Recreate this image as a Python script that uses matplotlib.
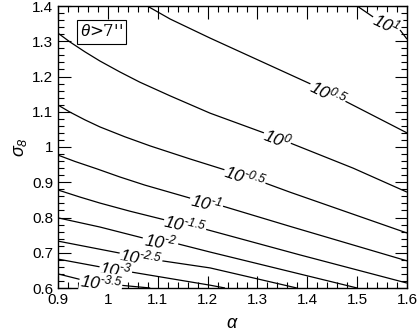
import numpy as np
import matplotlib
matplotlib.use("Agg")
import matplotlib.pyplot as plt
from matplotlib.ticker import MultipleLocator, FixedFormatter, FixedLocator

plt.rcParams['font.family'] = ['Liberation Sans', 'DejaVu Sans']
plt.rcParams['mathtext.fontset'] = 'custom'
plt.rcParams['mathtext.rm'] = 'Liberation Sans:italic'
plt.rcParams['mathtext.it'] = 'Liberation Sans:italic'

# contour levels (log10 N) and their traced lines: (alpha, sigma8) before and after the label gap
levels = ["1", "0.5", "0", "-0.5", "-1", "-1.5", "-2", "-2.5", "-3", "-3.5"]
seg_before = [
    [(1.500, 1.400), (1.532, 1.369)],
    [(1.079, 1.400), (1.125, 1.363), (1.205, 1.309), (1.411, 1.176)],
    [(0.900, 1.323), (0.924, 1.298), (0.954, 1.270), (0.984, 1.244), (1.024, 1.213),
     (1.064, 1.184), (1.125, 1.145), (1.205, 1.096), (1.319, 1.037)],
    [(0.900, 1.119), (0.924, 1.099), (0.954, 1.077), (0.984, 1.057), (1.034, 1.029),
     (1.085, 1.003), (1.165, 0.966), (1.235, 0.935)],
    [(0.900, 0.977), (0.934, 0.959), (0.978, 0.938), (1.024, 0.915), (1.074, 0.892),
     (1.165, 0.855)],
    [(0.900, 0.878), (0.944, 0.858), (0.984, 0.841), (1.044, 0.818), (1.115, 0.793)],
    [(0.900, 0.799), (0.984, 0.773), (1.070, 0.742)],
    [(0.900, 0.733), (1.024, 0.699)],
    [(0.900, 0.682), (0.984, 0.660)],
    [(0.900, 0.640), (0.948, 0.623)],
]
seg_after = [
    [(1.586, 1.332), (1.600, 1.306)],
    [(1.472, 1.133), (1.600, 1.040)],
    [(1.361, 1.014), (1.492, 0.940), (1.600, 0.872)],
    [(1.315, 0.898), (1.365, 0.872), (1.600, 0.756)],
    [(1.231, 0.832), (1.365, 0.775), (1.600, 0.677)],
    [(1.195, 0.767), (1.385, 0.694), (1.600, 0.614)],
    [(1.141, 0.725), (1.205, 0.702), (1.500, 0.600)],
    [(1.109, 0.677), (1.205, 0.657), (1.379, 0.600)],
    [(1.048, 0.645), (1.205, 0.608), (1.235, 0.600)],
    [(1.024, 0.608), (1.085, 0.600)],
]

xticks = [0.9, 1.0, 1.1, 1.2, 1.3, 1.4, 1.5, 1.6]
xticklabels = ["0.9", "1", "1.1", "1.2", "1.3", "1.4", "1.5", "1.6"]
yticks = [0.6, 0.7, 0.8, 0.9, 1.0, 1.1, 1.2, 1.3, 1.4]
yticklabels = ["0.6", "0.7", "0.8", "0.9", "1", "1.1", "1.2", "1.3", "1.4"]

fig = plt.figure(figsize=(4.2, 3.34), dpi=100)
ax = fig.add_axes([58/420, 1-288/334, (407-58)/420, (288-6)/334])
ax.set_xlim(0.9, 1.6)
ax.set_ylim(0.6, 1.4)

for lev, b, a in zip(levels, seg_before, seg_after):
    b = np.array(b); a = np.array(a)
    ax.plot(b[:, 0], b[:, 1], color='black', lw=0.9, solid_capstyle='butt', zorder=2)
    ax.plot(a[:, 0], a[:, 1], color='black', lw=0.9, solid_capstyle='butt', zorder=2)
    p0 = b[-1]; p1 = a[0]
    mid = (p0 + p1) / 2
    ang = np.degrees(np.arctan2(p1[1] - p0[1], p1[0] - p0[0]))
    ax.text(mid[0], mid[1], r"$10^{\text{%s}}$" % lev, fontsize=12.5, ha='center', va='center',
            rotation=ang, transform_rotates_text=True, rotation_mode='anchor', zorder=3,
            bbox=dict(boxstyle='square,pad=0.02', fc='white', ec='none'))

ax.text(0.125, 0.908, r"$\theta$>7''", transform=ax.transAxes, fontsize=12,
        ha='center', va='center', family=['DejaVu Serif'], zorder=4,
        bbox=dict(boxstyle='square,pad=0.2', fc='white', ec='black', lw=0.8))

ax.xaxis.set_major_locator(FixedLocator(xticks))
ax.xaxis.set_major_formatter(FixedFormatter(xticklabels))
ax.yaxis.set_major_locator(FixedLocator(yticks))
ax.yaxis.set_major_formatter(FixedFormatter(yticklabels))
ax.xaxis.set_minor_locator(MultipleLocator(0.02))
ax.yaxis.set_minor_locator(MultipleLocator(0.02))
ax.tick_params(which='both', direction='in', top=True, right=True, labelsize=11)
ax.tick_params(which='major', length=9, width=0.8)
ax.tick_params(which='minor', length=4.5, width=0.8)
for s in ax.spines.values():
    s.set_linewidth(1.0)

ax.set_xlabel(r"$\alpha$", fontsize=13, labelpad=6)
ax.set_ylabel(r"$\sigma_8$", fontsize=13, labelpad=2)

fig.savefig("out.png", dpi=100)
